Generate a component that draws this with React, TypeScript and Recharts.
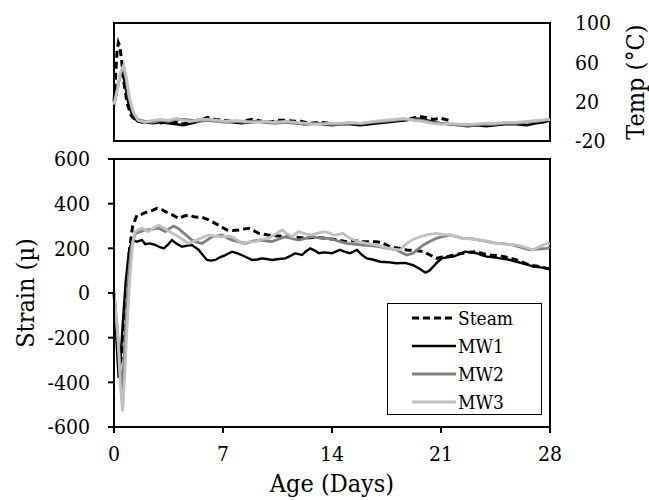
import { LineChart, Line, XAxis, YAxis, ReferenceArea, Legend } from 'recharts';

const FONT = "'DejaVu Serif Condensed', 'DejaVu Serif', serif";

const DAY_TICKS = [0, 7, 14, 21, 28];
const STRAIN_TICKS = [-600, -400, -200, 0, 200, 400, 600];
const TEMP_TICKS = [-20, 20, 60, 100];

// [day, strain (µ)]
const steamStrain = [
  [0, 0], [0.1, -100], [0.3, -330], [0.45, -300], [0.6, -180], [0.8, 0], [1.0, 200], [1.2, 300],
  [1.48, 349], [1.75, 352], [2.0, 360], [2.4, 368], [2.76, 379], [3.1, 372], [3.5, 357], [3.8, 348],
  [4.15, 334], [4.5, 345], [4.8, 349], [5.2, 340], [5.65, 339], [6.0, 330], [6.3, 319], [6.72, 304],
  [7.0, 292], [7.26, 282], [7.6, 280], [8.0, 282], [8.3, 286], [8.65, 290], [9.0, 278], [9.3, 267],
  [9.9, 260], [10.4, 256], [11.0, 252], [11.6, 250], [12.3, 245], [12.9, 250], [13.55, 245], [14.2, 240],
  [14.95, 230], [15.5, 235], [16.0, 230], [16.87, 230], [17.3, 222], [17.73, 207], [18.3, 200], [18.8, 193],
  [19.4, 190], [19.87, 185], [20.3, 170], [20.7, 155], [21.0, 160], [21.4, 163], [21.9, 172], [22.4, 178],
  [22.8, 182], [23.3, 185], [23.7, 176], [24.15, 170], [24.6, 168], [25.0, 163], [25.4, 158], [25.86, 148],
  [26.3, 136], [26.7, 125], [27.2, 120], [27.8, 110], [28, 108],
];

const mw1Strain = [
  [0, 0], [0.1, -120], [0.2, -260], [0.3, -380], [0.42, -300], [0.55, -150], [0.75, 50], [0.95, 180],
  [1.16, 237], [1.45, 230], [1.8, 237], [2.0, 219], [2.3, 222], [2.65, 215], [2.95, 205], [3.2, 200],
  [3.45, 215], [3.72, 237], [4.0, 222], [4.37, 207], [4.7, 212], [5.0, 215], [5.44, 193], [5.7, 170],
  [5.97, 148], [6.2, 145], [6.5, 148], [6.8, 160], [7.15, 170], [7.58, 185], [7.9, 178], [8.2, 170],
  [8.5, 160], [8.86, 148], [9.2, 150], [9.5, 155], [9.8, 152], [10.15, 148], [10.6, 152], [11.0, 155],
  [11.3, 165], [11.65, 178], [12.07, 170], [12.3, 185], [12.6, 200], [12.9, 190], [13.15, 178], [13.5, 182],
  [14.0, 178], [14.5, 193], [14.8, 185], [15.15, 178], [15.6, 193], [15.9, 172], [16.23, 155], [16.6, 150],
  [17.1, 140], [17.6, 138], [18.15, 133], [18.7, 135], [19.2, 125], [19.6, 110], [20.0, 91], [20.25, 100],
  [20.5, 118], [20.8, 140], [21.05, 155], [21.4, 160], [21.8, 163], [22.2, 175], [22.55, 185], [22.9, 182],
  [23.3, 178], [23.6, 170], [23.94, 163], [24.4, 160], [24.8, 155], [25.3, 150], [25.86, 140], [26.4, 130],
  [26.93, 118], [27.4, 115], [27.8, 110], [28, 106],
];

const mw2Strain = [
  [0, 0], [0.2, -150], [0.38, -320], [0.5, -440], [0.62, -330], [0.75, -150], [0.9, 50], [1.1, 200],
  [1.37, 267], [1.7, 275], [2.0, 282], [2.4, 285], [2.87, 290], [3.3, 275], [3.55, 288], [3.83, 300],
  [4.1, 290], [4.37, 275], [4.7, 255], [5.0, 237], [5.3, 228], [5.65, 222], [6.0, 238], [6.3, 252],
  [6.94, 260], [7.2, 250], [7.58, 237], [8.0, 230], [8.43, 222], [8.9, 232], [9.3, 237], [9.7, 234],
  [10.15, 230], [10.6, 242], [11.0, 252], [11.4, 244], [11.86, 237], [12.3, 245], [12.7, 252], [13.1, 248],
  [13.57, 245], [13.87, 245], [14.4, 232], [14.95, 222], [15.5, 218], [16.0, 215], [16.5, 212], [17.1, 207],
  [17.6, 200], [18.15, 193], [18.5, 180], [18.8, 170], [19.2, 178], [19.5, 195], [19.87, 215], [20.3, 232],
  [20.7, 245], [21.1, 252], [21.57, 260], [22.0, 252], [22.4, 245], [23.0, 242], [23.5, 237], [24.0, 230],
  [24.6, 222], [25.1, 220], [25.6, 215], [26.1, 205], [26.7, 193], [27.2, 196], [27.8, 200], [28, 205],
];

const mw3Strain = [
  [0, 0], [0.25, -200], [0.4, -400], [0.55, -530], [0.68, -380], [0.8, -200], [1.0, 50], [1.2, 230],
  [1.37, 275], [1.6, 285], [1.8, 290], [2.0, 282], [2.23, 275], [2.5, 290], [2.87, 304], [3.1, 295],
  [3.4, 282], [3.8, 265], [4.15, 252], [4.5, 235], [4.8, 222], [5.05, 230], [5.33, 237], [5.7, 250],
  [6.08, 260], [6.5, 255], [6.94, 252], [7.3, 255], [7.6, 252], [7.9, 238], [8.2, 222], [8.6, 228],
  [9.08, 230], [9.5, 240], [9.94, 245], [10.4, 265], [10.8, 282], [11.1, 265], [11.43, 252], [11.65, 265],
  [11.86, 275], [12.3, 265], [12.7, 260], [13.1, 268], [13.57, 275], [13.87, 267], [14.2, 258], [14.7, 267],
  [15.15, 245], [15.7, 230], [16.23, 222], [16.8, 215], [17.3, 207], [17.8, 198], [18.37, 193], [18.8, 222],
  [19.2, 240], [19.65, 252], [20.2, 262], [20.7, 267], [21.1, 262], [21.57, 260], [22.0, 252], [22.4, 245],
  [23.0, 242], [23.5, 237], [24.0, 232], [24.6, 222], [25.2, 218], [25.86, 215], [26.4, 205], [26.9, 193],
  [27.4, 210], [27.8, 222], [28, 220],
];

// [day, temperature (°C)]
const steamTemp = [
  [0, 20], [0.1, 45], [0.2, 72], [0.28, 80], [0.38, 76], [0.5, 60], [0.65, 38], [0.85, 18], [1.1, 6],
  [1.4, 1], [1.8, -1], [2.3, 0], [2.8, -2], [3.3, -1], [3.8, 0], [4.3, -3], [4.8, -1], [5.3, 1], [5.7, 2],
  [6.0, 4], [6.5, 2], [7.0, 1], [7.5, 0], [8.0, -1], [8.5, 1], [8.9, 2], [9.5, 0], [10.0, -1], [10.5, 1],
  [11.1, 1], [11.6, 0], [12.0, 0], [12.6, -2], [13.2, -1], [13.8, -2], [14.4, -3], [15.0, -2], [15.6, -3],
  [16.3, -2], [16.9, -1], [17.5, 0], [18.0, 1], [18.6, 2], [19.1, 3], [19.6, 5], [20.0, 4], [20.5, 2],
  [21.0, 3], [21.5, 1],
];

const mw1Temp = [
  [0, 16], [0.15, 28], [0.3, 40], [0.45, 48], [0.55, 50], [0.7, 38], [0.9, 20], [1.15, 7], [1.5, 0],
  [2.0, -1], [2.5, -2], [3.0, -1], [3.5, -2], [4.0, -3], [4.45, -4], [5.0, -2], [5.5, 0], [6.0, 2],
  [6.5, 1], [7.0, 0], [7.6, -1], [8.2, -2], [8.8, -1], [9.5, 0], [10.2, -1], [10.8, 0], [11.5, -1],
  [12.2, -3], [12.8, -2], [13.4, -3], [14.0, -4], [14.6, -3], [15.2, -3], [15.8, -4], [16.4, -3],
  [17.0, -2], [17.6, -1], [18.2, 0], [18.8, 1], [19.4, 3], [19.9, 2], [20.4, 0], [21.0, -2], [21.6, -3],
  [22.2, -4], [22.7, -5], [23.3, -4], [23.9, -5], [24.5, -4], [25.1, -3], [25.8, -3], [26.5, -4],
  [27.1, -2], [27.6, -1], [28, 1],
];

const mw2Temp = [
  [0, 18], [0.2, 32], [0.4, 48], [0.58, 55], [0.75, 45], [0.95, 25], [1.2, 10], [1.5, 2], [2.0, 0],
  [2.5, -1], [3.0, 1], [3.5, 0], [4.0, 2], [4.5, 2], [5.0, 1], [5.5, 0], [6.0, 1], [6.6, 0], [7.2, -1],
  [7.8, 0], [8.4, -1], [9.0, 0], [9.6, -1], [10.3, -2], [11.0, -1], [11.7, -2], [12.4, -3], [13.1, -2],
  [13.8, -3], [14.5, -3], [15.2, -2], [15.9, -2], [16.6, -1], [17.3, 0], [18.0, 1], [18.6, 2], [19.2, 2],
  [19.8, 1], [20.4, -1], [21.0, -2], [21.6, -3], [22.3, -4], [23.0, -4], [23.7, -3], [24.4, -3],
  [25.1, -2], [25.8, -2], [26.5, -1], [27.2, 0], [28, 2],
];

const mw3Temp = [
  [0, 17], [0.2, 30], [0.42, 50], [0.62, 57], [0.8, 44], [1.0, 24], [1.25, 9], [1.55, 1], [2.0, -1],
  [2.5, 1], [3.0, 2], [3.5, 1], [4.0, 3], [4.5, 1], [5.0, 0], [5.5, 2], [6.0, 2], [6.6, 1], [7.2, 0],
  [7.8, 1], [8.4, 0], [9.0, -1], [9.6, 0], [10.3, -1], [11.0, 0], [11.7, -1], [12.4, -2], [13.1, -3],
  [13.8, -2], [14.5, -2], [15.2, -1], [15.9, -2], [16.6, 0], [17.3, 1], [18.0, 2], [18.6, 3], [19.2, 1],
  [19.8, 0], [20.4, -2], [21.0, -3], [21.6, -2], [22.3, -3], [23.0, -3], [23.7, -2], [24.4, -2],
  [25.1, -1], [25.8, -1], [26.5, 0], [27.2, 1], [28, 2],
];

const toPoints = (rows: number[][]) => rows.map(([day, value]) => ({ day, value }));

const SERIES = [
  { name: 'Steam', strain: steamStrain, temp: steamTemp, color: '#000000', width: 3, dash: '7 4' },
  { name: 'MW1', strain: mw1Strain, temp: mw1Temp, color: '#000000', width: 2.4, dash: undefined },
  { name: 'MW2', strain: mw2Strain, temp: mw2Temp, color: '#808080', width: 2.8, dash: undefined },
  { name: 'MW3', strain: mw3Strain, temp: mw3Temp, color: '#c0c0c0', width: 2.8, dash: undefined },
];

const tickStyle = { fill: '#000', fontSize: 21, fontFamily: FONT };
const titleStyle = { fill: '#000', fontSize: 25, fontFamily: FONT, textAnchor: 'middle' as const };
const blackLine = { stroke: '#000', strokeWidth: 2 };

const LegendBox = () => (
  <div
    style={{
      width: 155,
      height: 112,
      boxSizing: 'border-box',
      border: '1.5px solid #000',
      background: '#fff',
      paddingLeft: 24,
      fontFamily: FONT,
      fontSize: 19,
      color: '#000',
    }}
  >
    {SERIES.map((s) => (
      <div key={s.name} style={{ display: 'flex', alignItems: 'center', height: 28 }}>
        <svg width={45} height={6}>
          <line x1={0} y1={3} x2={44} y2={3} stroke={s.color} strokeWidth={s.width} strokeDasharray={s.dash} />
        </svg>
        <span style={{ marginLeft: 1, lineHeight: '28px' }}>{s.name}</span>
      </div>
    ))}
  </div>
);

const App = () => {
  return (
    <div style={{ position: 'absolute', left: 0, top: 0, width: 649, height: 500, background: '#fff' }}>
      <div style={{ position: 'absolute', left: 0, top: 0 }}>
        <LineChart width={649} height={160} margin={{ top: 23, right: 0, bottom: 19, left: 114 }}>
          <XAxis type="number" dataKey="day" domain={[0, 28]} hide />
          <YAxis
            type="number"
            orientation="right"
            width={99}
            domain={[-20, 100]}
            ticks={TEMP_TICKS}
            axisLine={false}
            tickLine={false}
            tickMargin={19}
            tick={tickStyle}
            label={{ value: 'Temp (°C)', angle: -90, position: 'insideRight', offset: 14, style: titleStyle }}
          />
          <ReferenceArea x1={0} x2={28} y1={-20} y2={100} fill="none" stroke="#000" strokeWidth={2} />
          {SERIES.map((s) => (
            <Line
              key={s.name}
              data={toPoints(s.temp)}
              dataKey="value"
              name={s.name}
              stroke={s.color}
              strokeWidth={s.width}
              strokeDasharray={s.dash}
              dot={false}
              activeDot={false}
              isAnimationActive={false}
            />
          ))}
        </LineChart>
      </div>
      <div style={{ position: 'absolute', left: 0, top: 0 }}>
        <LineChart width={649} height={500} margin={{ top: 159, right: 99, bottom: 0, left: 0 }}>
          <XAxis
            type="number"
            dataKey="day"
            domain={[0, 28]}
            ticks={DAY_TICKS}
            height={73}
            axisLine={blackLine}
            tickLine={blackLine}
            tickSize={6}
            tickMargin={13}
            tick={tickStyle}
            label={{ value: 'Age (Days)', position: 'insideBottom', offset: 8, style: titleStyle }}
          />
          <YAxis
            type="number"
            domain={[-600, 600]}
            ticks={STRAIN_TICKS}
            width={114}
            axisLine={blackLine}
            tickLine={blackLine}
            tickSize={6}
            tickMargin={18}
            tick={tickStyle}
            label={{ value: 'Strain (µ)', angle: -90, position: 'insideLeft', offset: 25, style: titleStyle }}
          />
          <ReferenceArea x1={0} x2={28} y1={-600} y2={600} fill="none" stroke="#000" strokeWidth={2} />
          {SERIES.map((s) => (
            <Line
              key={s.name}
              data={toPoints(s.strain)}
              dataKey="value"
              name={s.name}
              stroke={s.color}
              strokeWidth={s.width}
              strokeDasharray={s.dash}
              dot={false}
              activeDot={false}
              isAnimationActive={false}
            />
          ))}
          <Legend
            layout="vertical"
            align="center"
            verticalAlign="middle"
            content={() => <LegendBox />}
            wrapperStyle={{ left: 387, top: 303, width: 155, height: 112 }}
          />
        </LineChart>
      </div>
    </div>
  );
};

export default App;
